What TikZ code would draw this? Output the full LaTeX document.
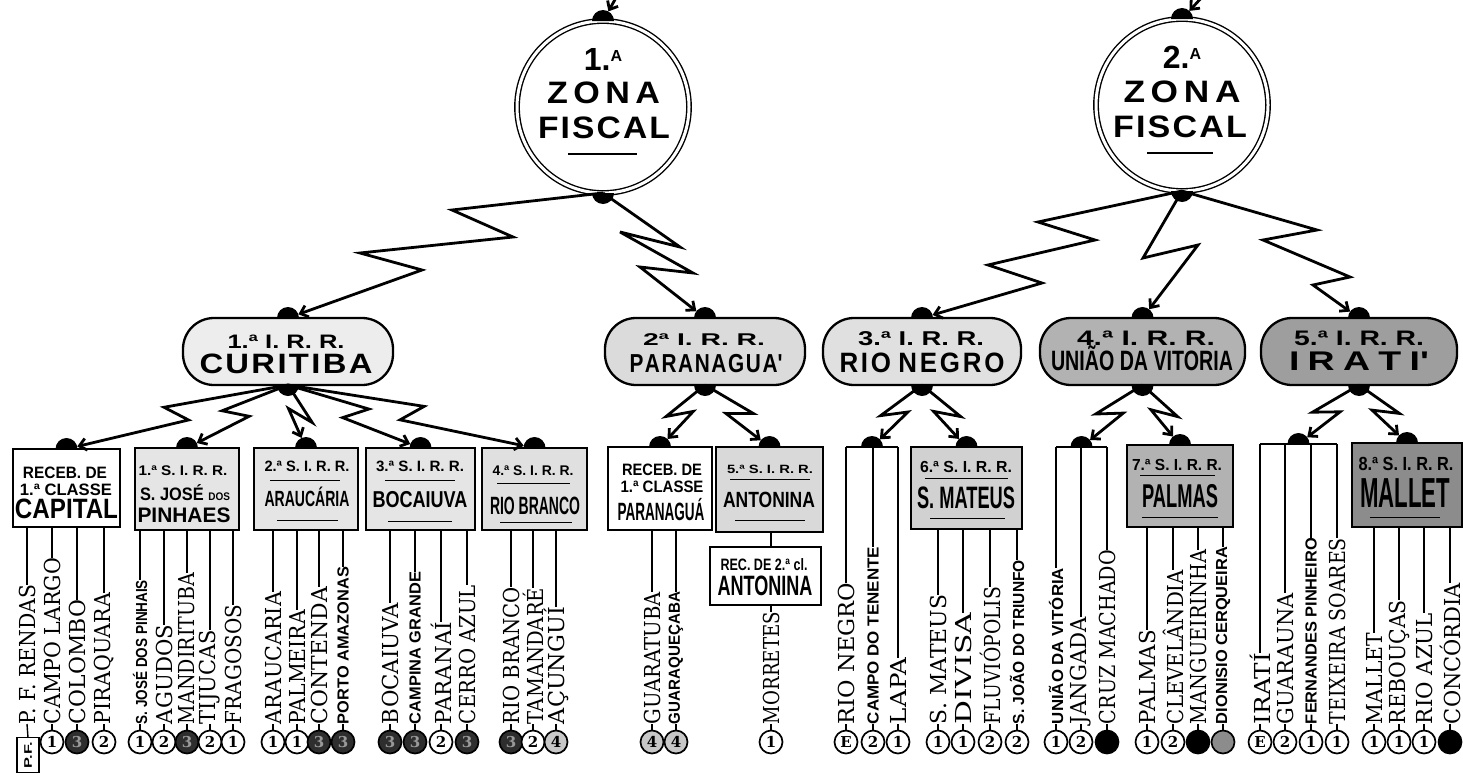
\documentclass[tikz,border=0pt]{standalone}
\usepackage{fontspec}
\usepackage{graphicx}
\setmainfont{DejaVu Serif}
\newfontfamily\hv{Liberation Sans}
\usetikzlibrary{arrows.meta,calc}

\newcommand\T[3]{{\hv\bfseries\fontsize{#2}{#2}\selectfont\resizebox{#1pt}{\height}{#3}}}
\newcommand\lS[2]{{\fontsize{22}{22}\selectfont\resizebox{#1pt}{\height}{#2}}}
\newcommand\lN[2]{{\hv\bfseries\fontsize{16}{16}\selectfont\resizebox{#1pt}{\height}{#2}}}

\tikzset{
  every node/.style={inner sep=0pt, outer sep=0pt},
  conn/.style={line width=2.8pt, line join=miter, miter limit=6, -{Straight Barb[length=7pt,width=12pt]}},
  zonest/.style={circle, draw, double, double distance=3pt, line width=1.4pt, minimum size=172pt, fill=white},
  pillst/.style={draw, line width=2.3pt, rounded corners=31pt, minimum height=67pt},
  boxst/.style={draw, line width=2.5pt},
  tie/.style={line width=1.4pt},
  brk/.style={line width=2pt},
  rul/.style={line width=1pt},
  numc/.style={circle, draw, line width=1.7pt, minimum size=23pt, fill=white, font=\bfseries\fontsize{15}{15}\selectfont},
  cw/.style={numc},
  cb/.style={numc, fill=black!82, text=black!40},
  cg/.style={numc, fill=black!22},
  ck/.style={numc, fill=black},
  cs/.style={numc, fill=black!45},
}

\newcommand\leaf[8]{%
  \pgfmathsetmacro\lenv{724-#3}%
  \node[anchor=south] (#1) at (#2,724) {\rotatebox{90}{#4{\lenv}{#5}}};
  \node[#7] (#1c) at (#2,742) {#8};
  \draw[tie] (#1.north |- #6) -- (#1.north);
  \draw[tie] (#1.south) -- (#1c.north);
}
\newcommand\bolt[4]{%
  \path ($(#1)!0.5!(#2)!10pt!(#2)!#3!90:(#2)$) coordinate (bA)
        ($(#1)!0.5!(#2)!-10pt!(#2)!#4!90:(#2)$) coordinate (bB);
  \draw[conn] (#1) -- (bA) -- (bB) -- ($(#2)!11pt!(bB)$);
}
\newcommand\domeup[1]{\fill (#1) ++(-11pt,0pt) arc[start angle=180,end angle=0,radius=11pt] -- cycle;}
\newcommand\domedn[1]{\fill (#1) ++(-11pt,0pt) arc[start angle=180,end angle=360,radius=11pt] -- cycle;}

\begin{document}
\begin{tikzpicture}[x=1pt,y=-1pt]
\useasboundingbox (0,0) rectangle (1463,779);
\fill[white] (0,0) rectangle (1463,779);

% ---------- zones ----------
\node[zonest] (z1) at (603,107) {};
\node[anchor=base] (z1n) at (603,70) {\hv\bfseries\fontsize{32}{32}\selectfont 1.\raisebox{9pt}{\fontsize{16}{16}\selectfont A}};
\node[anchor=base] (z1z) at (603.5,103) {\T{113}{31}{Z\kern5pt O\kern5pt N\kern5pt A}};
\node[anchor=base] (z1f) at (604,138) {\T{132}{31}{F\kern2pt I\kern2pt S\kern2pt C\kern2pt A\kern2pt L}};
\draw[line width=1.5pt] (568,154) -- (637,154);

\node[zonest] (z2) at (1182,105) {};
\node[anchor=base] (z2n) at (1182,68) {\hv\bfseries\fontsize{32}{32}\selectfont 2.\raisebox{9pt}{\fontsize{16}{16}\selectfont A}};
\node[anchor=base] (z2z) at (1182,102) {\T{117}{31}{Z\kern5pt O\kern5pt N\kern5pt A}};
\node[anchor=base] (z2f) at (1180,137) {\T{134}{31}{F\kern2pt I\kern2pt S\kern2pt C\kern2pt A\kern2pt L}};
\draw[line width=1.5pt] (1147,153) -- (1213,153);

% ---------- pills ----------
\node[pillst, fill=black!7, minimum width=210pt] (p1) at (288,351.5) {};
\node[anchor=base] (p1a) at (286,348) {\T{117}{19.5}{1.ª I. R. R.}};
\node[anchor=base] (p1b) at (286,373) {\T{173}{28}{C\kern2pt U\kern2pt R\kern2pt I\kern2pt T\kern2pt I\kern2pt B\kern2pt A}};

\node[pillst, fill=black!14, minimum width=200pt] (p2) at (705,351.5) {};
\node[anchor=base] (p2a) at (704,345) {\T{122}{17}{2ª I. R. R.}};
\node[anchor=base] (p2b) at (706,372) {\T{153}{26}{P\kern2pt A\kern2pt R\kern2pt A\kern2pt N\kern2pt A\kern2pt G\kern2pt U\kern2pt A'}};

\node[pillst, fill=black!12, minimum width=198pt] (p3) at (922,351.5) {};
\node[anchor=base] (p3a) at (921,345) {\T{126}{20}{3.ª I. R. R.}};
\node[anchor=base] (p3b) at (922,372) {\T{165}{28}{R\kern3pt I\kern3pt O\kern8pt N\kern3pt E\kern3pt G\kern3pt R\kern3pt O}};

\node[pillst, fill=black!30, minimum width=205pt] (p4) at (1142.5,351.5) {};
\node[anchor=base] (p4a) at (1146,345) {\T{138}{21}{4.ª I. R. R.}};
\node[anchor=base] (p4b) at (1142,370) {\T{182}{28}{UNIÃO DA VITORIA}};

\node[pillst, fill=black!38, minimum width=196pt] (p5) at (1359,351.5) {};
\node[anchor=base] (p5a) at (1359,345) {\T{130}{21}{5.ª I. R. R.}};
\node[anchor=base] (p5b) at (1359,370) {\T{140}{27}{I\kern6pt R\kern6pt A\kern6pt T\kern6pt I'}};

% ---------- boxes ----------
\node[boxst, fill=white, minimum width=107pt, minimum height=78pt] (b1) at (66.5,488) {};
\node[anchor=base] (b1a) at (65,478) {\T{84}{16.5}{RECEB. DE}};
\node[anchor=base] (b1b) at (66,495) {\T{92}{16.5}{1.ª CLASSE}};
\node[anchor=base] (b1c) at (66.5,518) {\T{103}{28}{CAPITAL}};

\node[boxst, fill=black!10, minimum width=104pt, minimum height=82pt] (b2) at (187,489) {};
\node[anchor=base] (b2a) at (183,475) {\T{89}{14}{1.ª S. I. R. R.}};
\node[anchor=base] (b2b) at (185,500) {\T{90}{18}{S. JOSÉ {\fontsize{11}{11}\selectfont DOS}}};
\node[anchor=base] (b2c) at (184,522) {\T{93}{21}{PINHAES}};

\node[boxst, fill=black!10, minimum width=104pt, minimum height=82pt] (b3) at (306,489) {};
\node[anchor=base] (b3a) at (307,471) {\T{85}{15}{2.ª S. I. R. R.}};
\draw[rul] (270,480) -- (340,480);
\node[anchor=base] (b3b) at (307,506) {\T{85}{22}{ARAUCÁRIA}};
\draw[rul] (277,520) -- (338,520);

\node[boxst, fill=black!10, minimum width=109pt, minimum height=82pt] (b4) at (420.5,489) {};
\node[anchor=base] (b4a) at (420,471) {\T{88}{15}{3.ª S. I. R. R.}};
\draw[rul] (385,480) -- (455,480);
\node[anchor=base] (b4b) at (420,507) {\T{95}{23}{BOCAIUVA}};
\draw[rul] (388,521) -- (452,521);

\node[boxst, fill=black!12, minimum width=105pt, minimum height=82pt] (b5) at (534.5,489) {};
\node[anchor=base] (b5a) at (533,475) {\T{81}{14}{4.ª S. I. R. R.}};
\draw[rul] (497,483) -- (570,483);
\node[anchor=base] (b5b) at (535,514) {\T{90}{25}{RIO BRANCO}};
\draw[rul] (500,522) -- (572,522);

\node[boxst, fill=white, minimum width=104pt, minimum height=83pt] (b6) at (660,488.5) {};
\node[anchor=base] (b6a) at (662,475) {\T{80}{16.5}{RECEB. DE}};
\node[anchor=base] (b6b) at (662,492) {\T{83}{16.5}{1.ª CLASSE}};
\node[anchor=base] (b6c) at (661,520) {\T{87}{25}{PARANAGUÁ}};

\node[boxst, fill=black!15, minimum width=107pt, minimum height=85pt] (b7) at (769.5,489.5) {};
\node[anchor=base] (b7a) at (770,473) {\T{86}{12}{5.ª S. I. R. R.}};
\draw[rul] (730,479) -- (810,479);
\node[anchor=base] (b7b) at (769,507) {\T{92}{22}{ANTONINA}};
\draw[rul] (735,520) -- (805,520);

\node[boxst, fill=white, minimum width=111pt, minimum height=58pt] (b8) at (765.5,576) {};
\node[anchor=base] (b8a) at (764,570) {\T{87}{16.5}{REC. DE 2.ª cl.}};
\node[anchor=base] (b8b) at (765,595) {\T{95}{28}{ANTONINA}};
\draw[tie] (771,532) -- (771,547);

\node[boxst, fill=black!18, minimum width=111pt, minimum height=82pt] (b9) at (966.5,488) {};
\node[anchor=base] (b9a) at (966,472) {\T{92}{16}{6.ª S. I. R. R.}};
\draw[rul] (925,478) -- (1008,478);
\node[anchor=base] (b9b) at (966,508) {\T{98}{31}{S. MATEUS}};
\draw[rul] (930,518) -- (1005,518);

\node[boxst, fill=black!30, minimum width=106pt, minimum height=82pt] (b10) at (1180,486) {};
\node[anchor=base] (b10a) at (1177,470) {\T{90}{16}{7.ª S. I. R. R.}};
\draw[rul] (1140,475) -- (1215,475);
\node[anchor=base] (b10b) at (1180,507) {\T{76}{33}{PALMAS}};
\draw[rul] (1142,517) -- (1218,517);

\node[boxst, fill=black!45, minimum width=110pt, minimum height=84pt] (b11) at (1407,485) {};
\node[anchor=base] (b11a) at (1406,470) {\T{95}{19}{8.ª S. I. R. R.}};
\node[anchor=base] (b11b) at (1405,507) {\T{90}{42}{MALLET}};
\draw[rul] (1370,517) -- (1440,517);

% ---------- brackets ----------
\coordinate (rnT) at (872,447);
\draw[brk] (846,447) -- (898,447);
\coordinate (uvT) at (1081.5,447);
\draw[brk] (1056,447) -- (1107,447);
\coordinate (irT) at (1298.5,444);
\draw[brk] (1260,444) -- (1337,444);

% ---------- leaves ----------
\node[anchor=south] (l1) at (27,724) {\rotatebox{90}{\lS{139}{P. F. RENDAS}}};
\node[draw, line width=1.3pt, minimum width=22pt, minimum height=35pt] (l1c) at (28,755) {\rotatebox{90}{\T{26}{11}{P.F.}}};
\draw[tie] (l1.north |- b1.south) -- (l1.north);
\draw[tie] (l1.south) -- (l1c.north);
\leaf{l2}{52}{558}{\lS}{CAMPO LARGO}{b1.south}{cw}{1}
\leaf{l3}{77}{600}{\lS}{COLOMBO}{b1.south}{cb}{3}
\leaf{l4}{104}{593}{\lS}{PIRAQUARA}{b1.south}{cw}{2}
\leaf{l5}{140}{580}{\lN}{S. JOSÉ DOS PINHAIS}{b2.south}{cw}{1}
\leaf{l6}{164}{625}{\lS}{AGUDOS}{b2.south}{cw}{2}
\leaf{l7}{187}{573}{\lS}{MANDIRITUBA}{b2.south}{cb}{3}
\leaf{l8}{210}{630}{\lS}{TIJUCAS}{b2.south}{cw}{2}
\leaf{l9}{233}{605}{\lS}{FRAGOSOS}{b2.south}{cw}{1}
\leaf{l10}{273}{592}{\lS}{ARAUCARIA}{b3.south}{cw}{1}
\leaf{l11}{297}{610}{\lS}{PALMEIRA}{b3.south}{cw}{1}
\leaf{l12}{319}{587}{\lS}{CONTENDA}{b3.south}{cb}{3}
\leaf{l13}{343}{567}{\lN}{PORTO AMAZONAS}{b3.south}{cb}{3}
\leaf{l14}{390}{603}{\lS}{BOCAIUVA}{b4.south}{cb}{3}
\leaf{l15}{415}{572}{\lN}{CAMPINA GRANDE}{b4.south}{cb}{3}
\leaf{l16}{441}{622}{\lS}{PARANAÍ}{b4.south}{cw}{2}
\leaf{l17}{467}{585}{\lS}{CERRO AZUL}{b4.south}{cb}{3}
\leaf{l18}{511}{587}{\lS}{RIO BRANCO}{b5.south}{cb}{3}
\leaf{l19}{533}{588}{\lS}{TAMANDARÉ}{b5.south}{cw}{2}
\leaf{l20}{556}{607}{\lS}{AÇUNGUÍ}{b5.south}{cg}{4}
\leaf{l21}{652}{592}{\lS}{GUARATUBA}{b6.south}{cg}{4}
\leaf{l22}{676}{592}{\lN}{GUARAQUEÇABA}{b6.south}{cg}{4}
\leaf{l23}{771}{612}{\lS}{MORRETES}{b8.south}{cw}{1}
\leaf{l24}{846}{583}{\lS}{RIO NEGRO}{rnT}{cw}{E}
\leaf{l25}{873}{547}{\lN}{CAMPO DO TENENTE}{rnT}{cw}{2}
\leaf{l26}{898}{658}{\lS}{LAPA}{rnT}{cw}{1}
\leaf{l27}{938}{595}{\lS}{S. MATEUS}{b9.south}{cw}{1}
\leaf{l28}{963}{613}{\lS}{DIVISA}{b9.south}{cw}{1}
\leaf{l29}{990}{587}{\lS}{FLUVIÓPOLIS}{b9.south}{cw}{2}
\leaf{l30}{1017}{560}{\lN}{S. JOÃO DO TRIUNFO}{b9.south}{cw}{2}
\leaf{l31}{1056}{568}{\lN}{UNIÃO DA VITÓRIA}{uvT}{cw}{1}
\leaf{l32}{1081}{617}{\lS}{JANGADA}{uvT}{cw}{2}
\leaf{l33}{1107}{550}{\lS}{CRUZ MACHADO}{uvT}{ck}{}
\leaf{l34}{1147}{630}{\lS}{PALMAS}{b10.south}{cw}{1}
\leaf{l35}{1173}{570}{\lS}{CLEVELÂNDIA}{b10.south}{cw}{2}
\leaf{l36}{1198}{550}{\lS}{MANGUEIRINHA}{b10.south}{ck}{}
\leaf{l37}{1223}{547}{\lN}{DIONISIO CERQUEIRA}{b10.south}{cs}{}
\leaf{l38}{1260}{653}{\lS}{IRATÍ}{irT}{cw}{E}
\leaf{l39}{1285}{593}{\lS}{GUARAUNA}{irT}{cw}{2}
\leaf{l40}{1311}{538}{\lN}{FERNANDES PINHEIRO}{irT}{cw}{1}
\leaf{l41}{1337}{538}{\lS}{TEIXEIRA SOARES}{irT}{cw}{1}
\leaf{l42}{1374}{633}{\lS}{MALLET}{b11.south}{cw}{1}
\leaf{l43}{1399}{600}{\lS}{REBOUÇAS}{b11.south}{cw}{1}
\leaf{l44}{1424}{613}{\lS}{RIO AZUL}{b11.south}{cw}{1}
\leaf{l45}{1450}{583}{\lS}{CONCÓRDIA}{b11.south}{ck}{}

% ---------- zone connectors ----------
\coordinate (z1in) at (617,-4);
\draw[conn] (z1in) -- ($(z1.north)!11pt!(z1in)$);
\coordinate (z2in) at (1203,-4);
\draw[conn] (z2in) -- ($(z2.north)!11pt!(z2in)$);
\draw[conn] (z1.south) -- (452,210) -- (513,237) -- (360,253) -- (422,270) -- ($(p1.north)!11pt!(422,270)$);
\draw[conn] (z1.south) -- (680,247) -- (620,232) -- (693,273) -- (640,267) -- ($(p2.north)!11pt!(640,267)$);
\draw[conn] (z2.south) -- (1038,222) -- (1095,240) -- (988,265) -- (1042,283) -- ($(p3.north)!11pt!(1042,283)$);
\draw[conn] (z2.south) -- (1143,258) -- (1198,245) -- ($(p4.north)!11pt!(1198,245)$);
\draw[conn] (z2.south) -- (1317,230) -- (1263,240) -- (1350,277) -- (1313,285) -- ($(p5.north)!11pt!(1313,285)$);

% ---------- IRR connectors ----------
\bolt{p1.south}{b1.north}{-13pt}{6pt}
\bolt{p1.south}{b2.north}{-13pt}{6pt}
\bolt{p1.south}{b3.north}{13pt}{-6pt}
\bolt{p1.south}{b4.north}{13pt}{-6pt}
\bolt{p1.south}{b5.north}{13pt}{-6pt}
\bolt{p2.south}{b6.north}{-13pt}{6pt}
\bolt{p2.south}{b7.north}{13pt}{-6pt}
\bolt{p3.south}{rnT}{-13pt}{6pt}
\bolt{p3.south}{b9.north}{13pt}{-6pt}
\bolt{p4.south}{uvT}{-13pt}{6pt}
\bolt{p4.south}{b10.north}{13pt}{-6pt}
\bolt{p5.south}{irT}{-13pt}{6pt}
\bolt{p5.south}{b11.north}{13pt}{-6pt}

% ---------- domes ----------
\domeup{z1.north}\domedn{z1.south}
\domeup{z2.north}\domedn{z2.south}
\domeup{p1.north}\domedn{p1.south}
\domeup{p2.north}\domedn{p2.south}
\domeup{p3.north}\domedn{p3.south}
\domeup{p4.north}\domedn{p4.south}
\domeup{p5.north}\domedn{p5.south}
\domeup{b1.north}\domeup{b2.north}\domeup{b3.north}\domeup{b4.north}\domeup{b5.north}
\domeup{b6.north}\domeup{b7.north}\domeup{b9.north}\domeup{b10.north}\domeup{b11.north}
\domeup{rnT}\domeup{uvT}\domeup{irT}
\end{tikzpicture}
\end{document}
